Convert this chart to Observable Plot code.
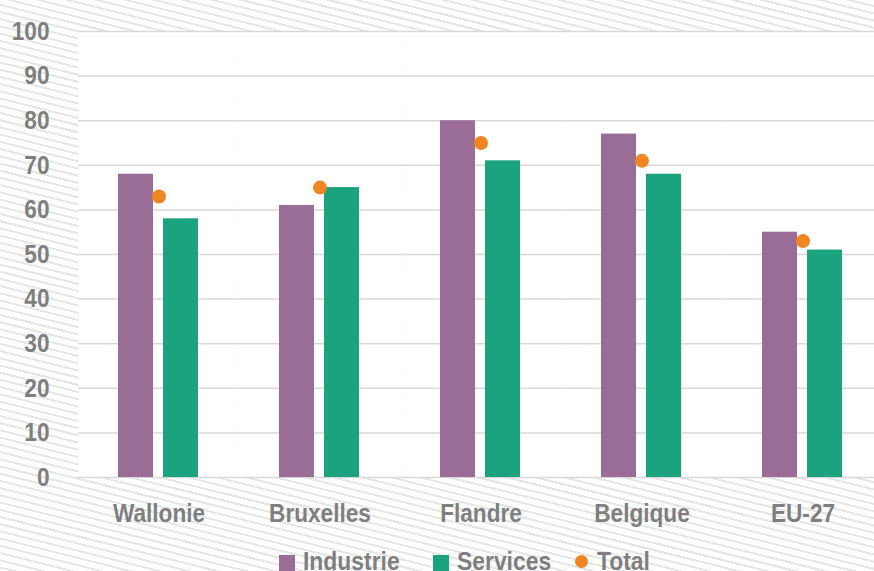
<!DOCTYPE html>
<html><head><meta charset="utf-8">
<script src="https://cdn.jsdelivr.net/npm/d3@7"></script>
<script src="https://cdn.jsdelivr.net/npm/@observablehq/plot@0.6"></script>
<style>
html,body{margin:0;padding:0;}
body{width:874px;height:571px;overflow:hidden;
  background:repeating-linear-gradient(194deg,#ffffff 0px,#ffffff 5px,#e6e6e6 5px,#e6e6e6 7px);
  font-family:"Liberation Sans",Arial,sans-serif;font-weight:bold;color:#7f7f7f;}
#chart svg{display:block;}
.legend{position:relative;height:23px;overflow:hidden;font-size:26px;line-height:26px;white-space:nowrap;}
.legend .sw{position:absolute;top:7px;width:16px;height:16px;}
.legend .dot{position:absolute;top:7px;width:13px;height:13px;border-radius:50%;}
.legend .lbl{position:absolute;top:0;transform:scaleX(0.88);transform-origin:left top;}
</style></head>
<body>
<div id="chart"></div>
<div class="legend" id="legend"></div>
<script>
const regions = ["Wallonie", "Bruxelles", "Flandre", "Belgique", "EU-27"];
const industrie = [68, 61, 80, 77, 55];
const services = [58, 65, 71, 68, 51];
const total = [63, 65, 75, 71, 53];
const series = ["Industrie", "Services"];
const seriesColors = ["#9a6d97", "#1ba37d"];
const totalLabel = "Total";
const totalColor = "#f08522";
const yTicks = [0, 10, 20, 30, 40, 50, 60, 70, 80, 90, 100];

const bars = [];
regions.forEach((r, i) => {
  bars.push({region: r, series: series[0], value: industrie[i]});
  bars.push({region: r, series: series[1], value: services[i]});
});
const dots = regions.map((r, i) => ({region: r, value: total[i]}));

const font = '"Liberation Sans",Arial,sans-serif';
const chart = Plot.plot({
  width: 874, height: 548,
  marginLeft: 77, marginRight: -10.5, marginTop: 31, marginBottom: 71,
  style: {background: "transparent", fontFamily: font, fontWeight: "bold", fontSize: "26px", color: "#7f7f7f", overflow: "hidden"},
  fx: {domain: regions, padding: 0, label: null, tickSize: 0, tickPadding: 26, axis: "bottom"},
  x: {domain: series, paddingInner: 0.217, paddingOuter: 0.864, axis: null},
  y: {domain: [0, 100], ticks: yTicks, tickSize: 0, tickPadding: 29, label: null},
  color: {domain: series, range: seriesColors},
  marks: [
    Plot.frame({fill: "white", stroke: null}),
    Plot.ruleY(yTicks, {stroke: "#d9d9d9", strokeWidth: 1.5}),
    Plot.barY(bars, {fx: "region", x: "series", y: "value", fill: "series"}),
    Plot.dot(dots, {fx: "region", y: "value", r: 7, fill: totalColor, stroke: null})
  ]
});
// condense the axis text horizontally (narrow bold face)
chart.querySelectorAll("text").forEach(el => {
  const x = parseFloat(el.getAttribute("x") || "0");
  const t = el.getAttribute("transform") || "";
  el.setAttribute("transform", `${t} translate(${x},0) scale(0.87,1) translate(${-x},0)`);
});
document.getElementById("chart").appendChild(chart);

const lg = document.getElementById("legend");
const legendItems = [
  {label: series[0], color: seriesColors[0], shape: "sw", left: 279, text: 303},
  {label: series[1], color: seriesColors[1], shape: "sw", left: 433, text: 457},
  {label: totalLabel, color: totalColor, shape: "dot", left: 575, text: 597}
];
legendItems.forEach(d => {
  const sw = document.createElement("div"); sw.className = d.shape; sw.style.background = d.color; sw.style.left = d.left + "px";
  const t = document.createElement("span"); t.className = "lbl"; t.textContent = d.label; t.style.left = d.text + "px";
  lg.appendChild(sw); lg.appendChild(t);
});
</script>
</body></html>
